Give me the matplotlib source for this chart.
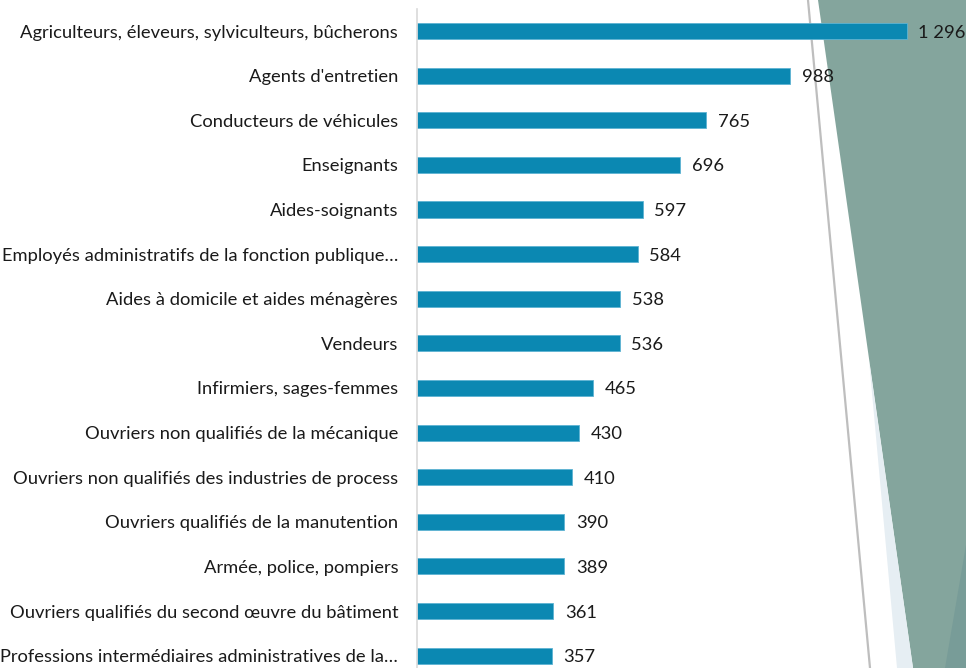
import matplotlib
matplotlib.use("Agg")
import matplotlib.pyplot as plt
from matplotlib.patches import Polygon
from matplotlib.lines import Line2D

categories = [
    "Agriculteurs, éleveurs, sylviculteurs, bûcherons",
    "Agents d'entretien",
    "Conducteurs de véhicules",
    "Enseignants",
    "Aides-soignants",
    "Employés administratifs de la fonction publique…",
    "Aides à domicile et aides ménagères",
    "Vendeurs",
    "Infirmiers, sages-femmes",
    "Ouvriers non qualifiés de la mécanique",
    "Ouvriers non qualifiés des industries de process",
    "Ouvriers qualifiés de la manutention",
    "Armée, police, pompiers",
    "Ouvriers qualifiés du second œuvre du bâtiment",
    "Professions intermédiaires administratives de la…",
]
values = [1296, 988, 765, 696, 597, 584, 538, 536, 465, 430, 410, 390, 389, 361, 357]

W, H = 966, 668
fig = plt.figure(figsize=(W / 100, H / 100), dpi=100)
fig.patch.set_facecolor("white")

def fp(x, y):
    return (x / W, 1 - y / H)

# background decoration
fig.add_artist(Polygon([fp(818, 0), fp(966, 0), fp(966, 668), fp(913, 668)],
                       closed=True, facecolor="#84A59D", edgecolor="none",
                       transform=fig.transFigure, zorder=0))
fig.add_artist(Polygon([fp(869, 360), fp(913, 668), fp(897, 668)],
                       closed=True, facecolor="#E6EEF3", edgecolor="none",
                       transform=fig.transFigure, zorder=0))
fig.add_artist(Polygon([fp(966, 545), fp(966, 668), fp(945, 668)],
                       closed=True, facecolor="#789C98", edgecolor="none",
                       transform=fig.transFigure, zorder=0))
x0, y0 = fp(808, 0)
x1, y1 = fp(870, 668)
fig.add_artist(Line2D([x0, x1], [y0, y1], color="#BEBEBE", lw=1.6,
                      transform=fig.transFigure, zorder=0))

# axes: left at 417 px, scale 0.3778 px/unit
xmax = 1450
left_px = 417
width_px = xmax * 0.3778
top_px = 8.7
bottom_px = 678
ax = fig.add_axes([left_px / W, 1 - bottom_px / H, width_px / W, (bottom_px - top_px) / H])
ax.set_facecolor("none")
ax.set_zorder(1)

FS = 13.2
n = len(categories)
ypos = list(range(n))
ax.barh(ypos, values, height=0.36, color="#0B88B2", edgecolor="#5DB3D3", linewidth=0.6, zorder=2)
ax.set_xlim(0, xmax)
ax.set_ylim(n - 0.5, -0.5)

for y, v in zip(ypos, values):
    s = f"{v:,}".replace(",", " ")
    ax.annotate(s, (v, y), xytext=(8.5, 0), textcoords="offset points",
                ha="left", va="center_baseline", fontsize=FS, color="#1A1A1A",
                family="Lato", zorder=3)

ax.set_yticks(ypos)
ax.set_yticklabels(categories, fontsize=FS, family="Lato", color="#1A1A1A",
                   va="center_baseline")
ax.tick_params(axis="y", length=0, pad=13.5)
ax.set_xticks([])
for sp in ["top", "right", "bottom"]:
    ax.spines[sp].set_visible(False)
ax.spines["left"].set_color("#D9D9D9")
ax.spines["left"].set_linewidth(1.2)

fig.savefig("out.png", dpi=100)
